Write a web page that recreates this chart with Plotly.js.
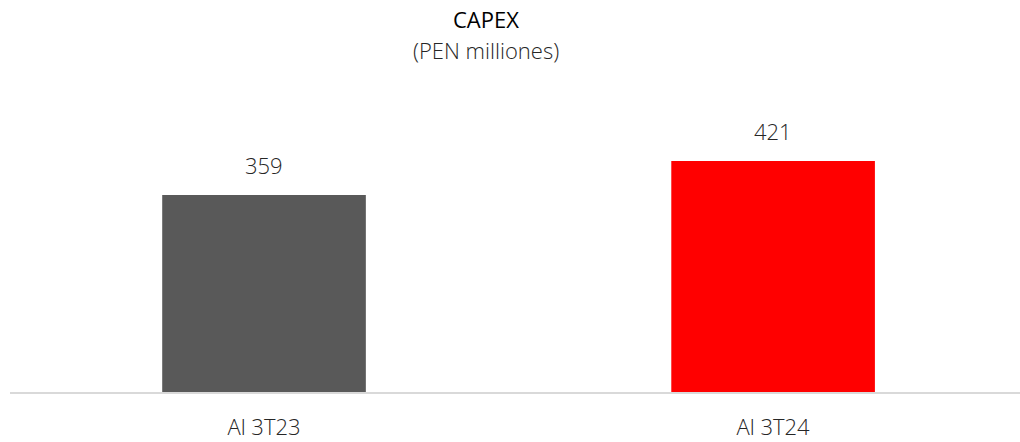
<!DOCTYPE html>
<html>
<head>
<meta charset="utf-8">
<script src="https://cdn.plot.ly/plotly-3.0.1.min.js"></script>
<style>html,body{margin:0;padding:0;background:#fff;}#chart{width:1020px;height:442px;}</style>
</head>
<body>
<div id="chart"></div>
<script>
const categories = ["Al 3T23", "Al 3T24"];
const values = [359, 421];
const barColors = ["#595959", "#ff0000"];
const titleText = "CAPEX";
const subtitleText = "(PEN milliones)";

const FONT = "Open Sans, Noto Sans, sans-serif";

const trace = {
  type: "bar",
  x: categories,
  y: values,
  marker: { color: barColors },
  width: 0.4,
  hoverinfo: "none"
};

const valueAnnotations = categories.map((c, i) => ({
  x: c, y: values[i], xref: "x", yref: "y",
  text: String(values[i]), showarrow: false,
  yanchor: "bottom", yshift: 13,
  font: { family: FONT, size: 22, color: "#262626", weight: 300 }
}));

const layout = {
  width: 1020, height: 442,
  margin: { l: 10, r: 0, t: 100, b: 50 },
  paper_bgcolor: "#ffffff", plot_bgcolor: "#ffffff",
  showlegend: false,
  xaxis: {
    range: [-0.499, 1.485],
    showgrid: false, zeroline: false,
    showline: true, linecolor: "#d9d9d9", linewidth: 2,
    ticks: "outside", ticklen: 15, tickcolor: "rgba(0,0,0,0)",
    tickfont: { family: FONT, size: 22, color: "#262626", weight: 300 },
    automargin: false,
    fixedrange: true
  },
  yaxis: {
    range: [0, 532],
    visible: false, showgrid: false, zeroline: false,
    fixedrange: true
  },
  annotations: [
    { xref: "paper", yref: "paper", x: 0.471, y: 1, xanchor: "center", yanchor: "middle",
      text: titleText, showarrow: false,
      font: { family: FONT, size: 22, color: "#000000", weight: 500 }, yshift: 81 },
    { xref: "paper", yref: "paper", x: 0.471, y: 1, xanchor: "center", yanchor: "middle",
      text: subtitleText, showarrow: false,
      font: { family: FONT, size: 22, color: "#262626", weight: 300 }, yshift: 50 }
  ].concat(valueAnnotations)
};

Plotly.newPlot("chart", [trace], layout, { displayModeBar: false, staticPlot: true });
</script>
</body>
</html>
